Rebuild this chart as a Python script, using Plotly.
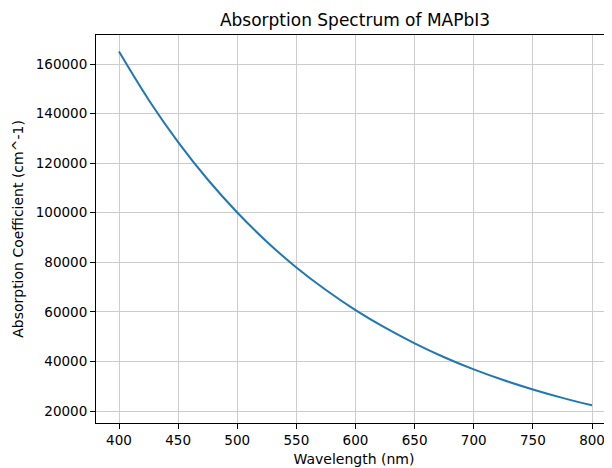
import plotly.graph_objects as go

wavelength_nm = [400, 425, 450, 475, 500, 525, 550, 575, 600, 625, 650, 675, 700, 725, 750, 775, 800]
absorption = [165000, 145600, 128500, 113400, 100100, 88300, 77900, 68800, 60700,
              53600, 47300, 41700, 36800, 32500, 28700, 25300, 22300]
x_ticks = [400, 450, 500, 550, 600, 650, 700, 750, 800]
y_ticks = [20000, 40000, 60000, 80000, 100000, 120000, 140000, 160000]

# page body adds an 8px offset; figure sized to fill the remaining window
W, H = 604, 460

fig = go.Figure()
fig.add_trace(go.Scatter(x=wavelength_nm, y=absorption, mode="lines",
                         line=dict(color="#1f77b4", width=2, shape="spline"),
                         showlegend=False))

font = dict(family="DejaVu Sans", size=14, color="black")
tickfont = dict(family="DejaVu Sans", size=13.5, color="black")
fig.update_layout(
    width=W, height=H,
    margin=dict(l=88, r=0, t=27, b=45),
    paper_bgcolor="white", plot_bgcolor="white",
    font=font,
    title=dict(text="Absorption Spectrum of MAPbI3", x=(347/W), xanchor="center",
               y=1 - 12/H, yanchor="middle", font=dict(family="DejaVu Sans", size=17, color="black")),
)
fig.update_xaxes(range=[380.55, 816.9], tickvals=x_ticks, ticktext=[str(v) for v in x_ticks],
                 tickfont=tickfont,
                 showgrid=True, gridcolor="#cccccc", gridwidth=1.3,
                 showline=True, linecolor="black", linewidth=1, mirror=True,
                 ticks="outside", ticklen=5, tickcolor="black", zeroline=False,
                 automargin=False,
                 title=dict(text="Wavelength (nm)", standoff=6, font=font))
fig.update_yaxes(range=[15160, 171700], tickvals=y_ticks, ticktext=[str(v) for v in y_ticks],
                 tickfont=tickfont,
                 showgrid=True, gridcolor="#cccccc", gridwidth=1.3,
                 showline=True, linecolor="black", linewidth=1, mirror=False,
                 ticks="outside", ticklen=5, tickcolor="black", zeroline=False,
                 automargin=False,
                 title=dict(text="Absorption Coefficient (cm^-1)", standoff=8, font=font))

fig.write_html("out.html")
